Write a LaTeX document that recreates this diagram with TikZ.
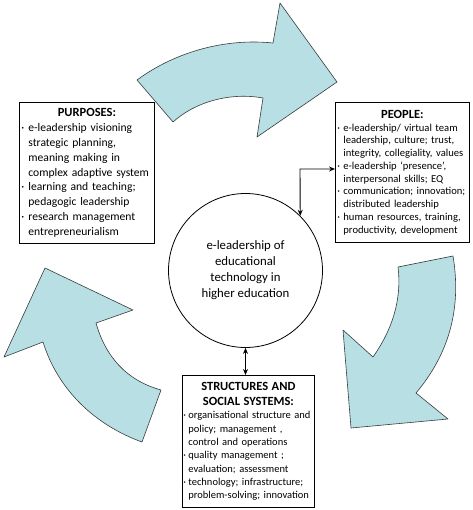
\documentclass[tikz,border=0pt]{standalone}
\usepackage{fontspec}
\setmainfont{Carlito}
\usetikzlibrary{positioning, arrows.meta}

\definecolor{flowblue}{RGB}{183,223,228}
\definecolor{flowedge}{RGB}{55,60,60}

% bullet with hanging indent
\newcommand\bul[1][7pt]{\par\noindent\hangindent=#1\hangafter=1\makebox[#1][l]{·}\ignorespaces}
\newcommand\boxhead[1]{{\centering\fontsize{12.5}{15}\selectfont\bfseries #1\par}}

\tikzset{
  textbox/.style={draw, fill=white, line width=0.8pt, anchor=north west,
    inner xsep=2pt, inner ysep=2pt},
  flow/.style={fill=flowblue, draw=flowedge, line width=0.6pt, line join=round},
  conn/.style={{Stealth[length=6pt,width=5pt]}-{Stealth[length=6pt,width=5pt]}, line width=0.9pt}
}

\begin{document}
\begin{tikzpicture}[x=1pt, y=-1pt]
\useasboundingbox (0,0) rectangle (472,510);

% the three turning arrows
\draw[flow] (137,80) .. controls (175,52) and (225,38) .. (273,43) -- (280,3) -- (337,82)
  -- (257,137) -- (263,98) .. controls (230,92) and (195,102) .. (173,122) -- cycle;
\draw[flow] (398,267) -- (453,256) .. controls (462,310) and (448,355) .. (416,393)
  -- (448,419) -- (351,428) -- (343,330) -- (373,357) .. controls (392,330) and (402,300) .. (398,267) -- cycle;
\draw[flow] (45,268) -- (133,310) -- (96,323) .. controls (105,355) and (125,380) .. (161,390)
  -- (142,442) .. controls (95,425) and (58,390) .. (43,342) -- (4,357) -- cycle;

% centre
\node[draw, circle, line width=0.8pt, minimum size=154pt, align=center,
  font=\fontsize{12.8}{16}\selectfont] (circ) at (245.5,270.5)
  {e-leadership of\\educational\\technology in\\higher education};

% boxes
\node[textbox, text width=131pt, minimum height=141pt,
  font=\fontsize{11.6}{14.8}\selectfont] (purp) at (19,102) {\raggedright
  \boxhead{PURPOSES:}
  \bul e-leadership visioning\newline strategic planning,\newline meaning making in\newline complex adaptive system
  \bul learning and teaching;\newline pedagogic leadership
  \bul research management\newline entrepreneurialism\par};

\node[textbox, text width=130pt, minimum height=140pt,
  font=\fontsize{10.6}{12.75}\selectfont] (peop) at (335,102) {\raggedright
  \boxhead{PEOPLE:}
  \bul[6pt] e-leadership/ virtual team\newline leadership, culture; trust,\newline integrity, collegiality, values
  \bul[6pt] e-leadership `presence',\newline interpersonal skills; EQ
  \bul[6pt] communication; innovation;\newline distributed leadership
  \bul[6pt] human resources, training,\newline productivity, development\par};

\node[textbox, text width=130pt, minimum height=132pt, inner xsep=1pt,
  font=\fontsize{10.5}{13.3}\selectfont] (stru) at (182,375) {\raggedright
  \boxhead{STRUCTURES AND\\SOCIAL SYSTEMS:}
  \bul[5pt] organisational structure and\newline policy; management ,\newline control and operations
  \bul[5pt] quality management ;\newline evaluation; assessment
  \bul[5pt] technology; infrastructure;\newline problem-solving; innovation\par};

% links
\coordinate (bend) at (300,169);
\draw[conn] (circ.45) -- (bend) -- (bend -| peop.west);
\draw[conn] (circ.south) -- (circ.south |- stru.north);
\end{tikzpicture}
\end{document}
